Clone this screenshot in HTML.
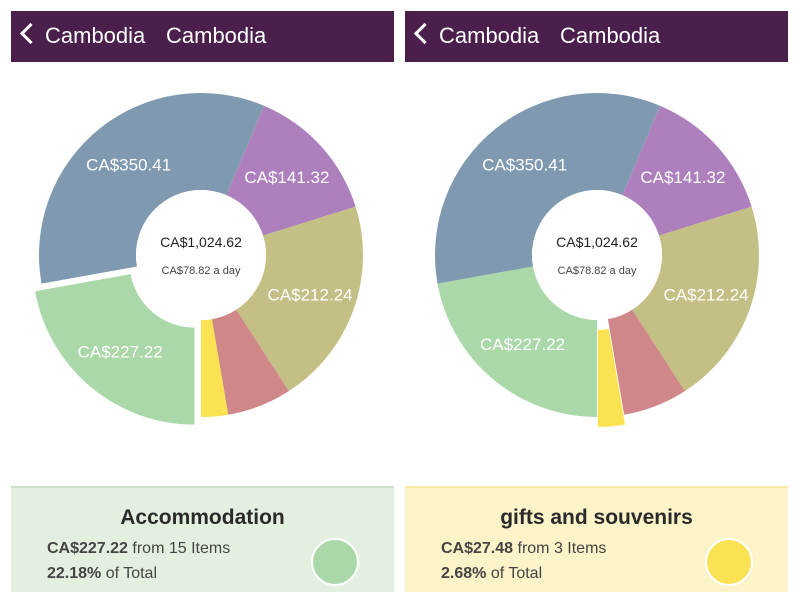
<!DOCTYPE html>
<html><head><meta charset="utf-8"><style>
body{margin:0;width:800px;height:600px;background:#fff;font-family:"Liberation Sans",sans-serif;overflow:hidden;position:relative}
.hdr{position:absolute;top:11px;height:51px;width:383px;background:#4a1f4b;color:#fff;font-size:22px;line-height:49px}
.hdr .b{position:absolute;left:34px}.hdr .t{position:absolute;left:155px}
.hdr .ch{position:absolute;left:12px;top:15px;width:12px;height:12px;border-left:3px solid #fff;border-bottom:3px solid #fff;transform:rotate(45deg)}
.panel{position:absolute;top:486px;height:104px;width:383px;color:#444}
.panel h2{margin:0;position:absolute;top:18px;width:100%;text-align:center;font-size:21px;color:#2a2a2a}
.panel .l{position:absolute;left:36px;font-size:16px}
.panel .dot{position:absolute;left:300px;top:50px;width:44px;height:44px;border-radius:50%;border:2px solid #fff}
svg{position:absolute;left:0;top:0}
</style></head><body>
<div class="hdr" style="left:11px"><span class="ch"></span><span class="b">Cambodia</span><span class="t">Cambodia</span></div>
<div class="hdr" style="left:405px"><span class="ch"></span><span class="b">Cambodia</span><span class="t">Cambodia</span></div>
<svg id="chart" width="800" height="600"></svg>
<div class="panel" style="left:11px;background:#e3f0e0;border-top:2px solid #c8e3c4">
<h2>Accommodation</h2>
<div class="l" style="top:52px"><b>CA$227.22</b> from 15 Items</div>
<div class="l" style="top:77px"><b>22.18%</b> of Total</div>
<div class="dot" style="background:#aad8a9"></div></div>
<div class="panel" style="left:405px;background:#fdf3c9;border-top:2px solid #f8e9a6">
<h2>gifts and souvenirs</h2>
<div class="l" style="top:52px"><b>CA$27.48</b> from 3 Items</div>
<div class="l" style="top:77px"><b>2.68%</b> of Total</div>
<div class="dot" style="background:#fbe253"></div></div>
<script>
const categories=["accommodation","transport","activities","food","other","gifts"];
const values=[227.22,350.41,141.32,212.24,65.95,27.48];
const labels=["CA$227.22","CA$350.41","CA$141.32","CA$212.24","",""];
const colors=["#aad8a9","#7f9ab0","#ad80bd","#c4bf85","#cf8789","#fbe253"];
const svg=document.getElementById('chart');const NS='http://www.w3.org/2000/svg';
function pt(cx,cy,r,a){return [cx+r*Math.sin(a),cy-r*Math.cos(a)];}
function donut(cx,cy,explode){
 const tot=values.reduce((a,b)=>a+b,0);const R=162,r0=65;let a=Math.PI;
 values.forEach((v,i)=>{
  const s=a,e=a+v/tot*2*Math.PI;a=e;const m=(s+e)/2;
  const off=i===explode?10:0;const x=cx+off*Math.sin(m),y=cy-off*Math.cos(m);
  const p1=pt(x,y,R,s),p2=pt(x,y,R,e),p3=pt(x,y,r0,e),p4=pt(x,y,r0,s);const lg=e-s>Math.PI?1:0;
  const p=document.createElementNS(NS,'path');
  p.setAttribute('d',`M${p1}A${R},${R} 0 ${lg} 1 ${p2}L${p3}A${r0},${r0} 0 ${lg} 0 ${p4}Z`);
  p.setAttribute('fill',colors[i]);
  
  
  svg.appendChild(p);
  if(labels[i]){const lp=pt(x,y,116,m);const t=document.createElementNS(NS,'text');
   t.setAttribute('x',lp[0]);t.setAttribute('y',lp[1]+6);t.setAttribute('text-anchor','middle');
   t.setAttribute('fill','#fff');t.setAttribute('font-size','17');t.textContent=labels[i];
   
   
   svg.appendChild(t);}
 });
 const c=document.createElementNS(NS,'circle');c.setAttribute('cx',cx);c.setAttribute('cy',cy);c.setAttribute('r',r0);c.setAttribute('fill','#fff');svg.appendChild(c);
 const t1=document.createElementNS(NS,'text');t1.setAttribute('x',cx);t1.setAttribute('y',cy-8);t1.setAttribute('text-anchor','middle');t1.setAttribute('font-size','14');t1.setAttribute('fill','#222');t1.textContent='CA$1,024.62';
 
 
 svg.appendChild(t1);
 const t2=document.createElementNS(NS,'text');t2.setAttribute('x',cx);t2.setAttribute('y',cy+19);t2.setAttribute('text-anchor','middle');t2.setAttribute('font-size','11');t2.setAttribute('fill','#444');t2.textContent='CA$78.82 a day';
 
 
 svg.appendChild(t2);
}
donut(201,255,0);donut(597,255,5);
</script>
</body></html>
